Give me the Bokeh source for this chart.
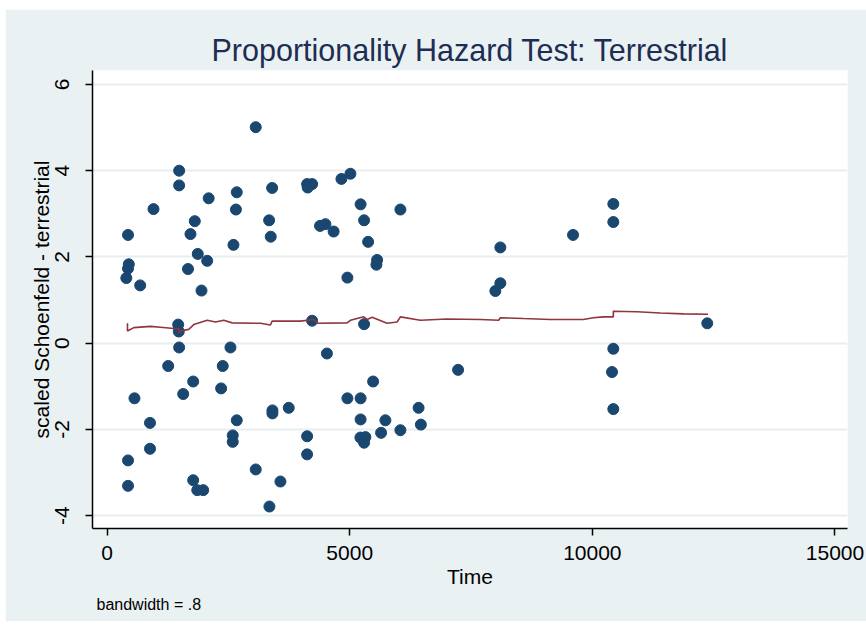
from bokeh.plotting import figure
from bokeh.models import Title, FixedTicker, Range1d
from bokeh.embed import file_html
from bokeh.resources import INLINE

# scaled Schoenfeld residuals (time, value)
time_pts = [3063, 1485, 1485, 956, 431, 447, 431, 396, 682, 1465, 1477,
            2093, 1807, 1718, 1868, 2062, 1667, 1945, 2672, 2655, 2604,
            3401, 3339, 3372, 4122, 4225, 4134, 4829, 5014, 5224, 6044,
            5296, 4388, 4499, 4668, 5379, 5564, 5550, 4952, 4225, 5296,
            10432, 10432, 9602, 8104, 8104, 8001, 12368, 10432, 10405, 10432,
            7233, 1485, 2542, 1259, 2383, 1774, 1568, 2350, 564, 884,
            884, 431, 431, 1774, 1858, 1980, 2672, 2589, 2589, 3063,
            3407, 3407, 3743, 3572, 3345, 4530, 5482, 4952, 5224, 6419,
            5224, 5735, 6466, 6044, 5646, 5220, 5323, 5296, 4122, 4122]
resid_pts = [5.01, 4.00, 3.66, 3.11, 2.51, 1.83, 1.73, 1.51, 1.34, 0.43, 0.27,
             3.36, 2.83, 2.53, 2.07, 1.91, 1.72, 1.22, 3.50, 3.10, 2.28,
             3.60, 2.85, 2.47, 3.69, 3.69, 3.61, 3.81, 3.93, 3.22, 3.10,
             2.85, 2.72, 2.76, 2.59, 2.35, 1.93, 1.82, 1.52, 0.52, 0.44,
             3.23, 2.81, 2.51, 2.22, 1.39, 1.21, 0.46, -0.13, -0.67, -1.53,
             -0.62, -0.10, -0.10, -0.53, -0.53, -0.89, -1.18, -1.05, -1.28, -1.85,
             -2.45, -2.72, -3.31, -3.18, -3.41, -3.41, -1.79, -2.14, -2.29, -2.93,
             -1.56, -1.63, -1.50, -3.21, -3.79, -0.24, -0.89, -1.28, -1.28, -1.50,
             -1.77, -1.79, -1.89, -2.02, -2.08, -2.19, -2.18, -2.31, -2.16, -2.58]

# lowess smooth (time, value)
smooth_time = [420, 420, 550, 894, 1100, 1374, 1485, 1485, 1547, 1683, 1786,
               2062, 2233, 2404, 2577, 3160, 3366, 3401, 3984, 4258, 4328,
               4946, 5014, 5288, 5358, 5461, 5770, 5976, 6044, 6456, 7006,
               7692, 8069, 8104, 8578, 9134, 9814, 10020, 10226, 10432, 10432,
               10920, 11400, 11880, 12383]
smooth_val = [0.46, 0.28, 0.36, 0.39, 0.37, 0.34, 0.34, 0.24, 0.29, 0.32, 0.43,
              0.53, 0.49, 0.53, 0.47, 0.46, 0.42, 0.51, 0.51, 0.55, 0.46,
              0.47, 0.53, 0.61, 0.55, 0.60, 0.46, 0.49, 0.61, 0.53, 0.56,
              0.55, 0.53, 0.59, 0.57, 0.55, 0.55, 0.59, 0.61, 0.61, 0.74,
              0.73, 0.70, 0.68, 0.67]

x_ticks = [0, 5000, 10000, 15000]
y_ticks = [-4, -2, 0, 2, 4, 6]
y_tick_labels = {-4: "-4", -2: "-2", 0: "0", 2: "2", 4: "4", 6: "6"}

TITLE = "Proportionality Hazard Test: Terrestrial"
X_LABEL = "Time"
Y_LABEL = "scaled Schoenfeld - terrestrial"
NOTE = "bandwidth = .8"

FONT = "Liberation Sans"
BG = "#EAF1F3"

p = figure(width=861, height=612, output_backend="svg", toolbar_location=None,
           x_range=Range1d(-301, 15258), y_range=Range1d(-4.30, 6.325),
           min_border_left=87, min_border_right=19, min_border_top=61,
           min_border_bottom=93)
p.margin = (9, 0, 0, 5)
p.border_fill_color = BG
p.background_fill_color = "white"
p.outline_line_color = None

p.title.text = TITLE
p.title.align = "center"
p.title.text_font = FONT
p.title.text_font_size = "30.5px"
p.title.text_font_style = "normal"
p.title.text_color = "#1E2D53"
p.title.standoff = 7

p.scatter(time_pts, resid_pts, size=11, color="#1A476F", marker="circle")
p.line(smooth_time, smooth_val, line_color="#90353B", line_width=1.6)

p.xgrid.visible = False
p.ygrid.grid_line_color = "#E6EEF0"
p.ygrid.grid_line_width = 2

for ax in (p.xaxis[0], p.yaxis[0]):
    ax.axis_line_color = "black"
    ax.axis_line_width = 1.5
    ax.major_tick_line_color = "black"
    ax.major_tick_line_width = 1.5
    ax.major_tick_out = 7
    ax.major_tick_in = 0
    ax.minor_tick_out = 0
    ax.minor_tick_in = 0
    ax.major_label_text_font = FONT
    ax.major_label_text_font_size = "21px"
    ax.major_label_text_color = "black"
    ax.axis_label_text_font = FONT
    ax.axis_label_text_font_size = "21px"
    ax.axis_label_text_font_style = "normal"
    ax.axis_label_text_color = "black"

p.xaxis[0].ticker = FixedTicker(ticks=x_ticks)
p.yaxis[0].ticker = FixedTicker(ticks=y_ticks)
p.yaxis[0].major_label_overrides = y_tick_labels
p.xaxis[0].axis_label = X_LABEL
p.yaxis[0].axis_label = Y_LABEL
p.yaxis[0].major_label_orientation = "vertical"
p.xaxis[0].major_label_standoff = 10
p.yaxis[0].major_label_standoff = 16
p.xaxis[0].axis_label_standoff = 2
p.yaxis[0].axis_label_standoff = 0

note = Title(text=NOTE, align="left", text_font=FONT, text_font_size="16px",
             text_font_style="normal", text_color="black", offset=4, standoff=6)
p.add_layout(note, "below")

open("out.html", "w").write(file_html(p, INLINE))
